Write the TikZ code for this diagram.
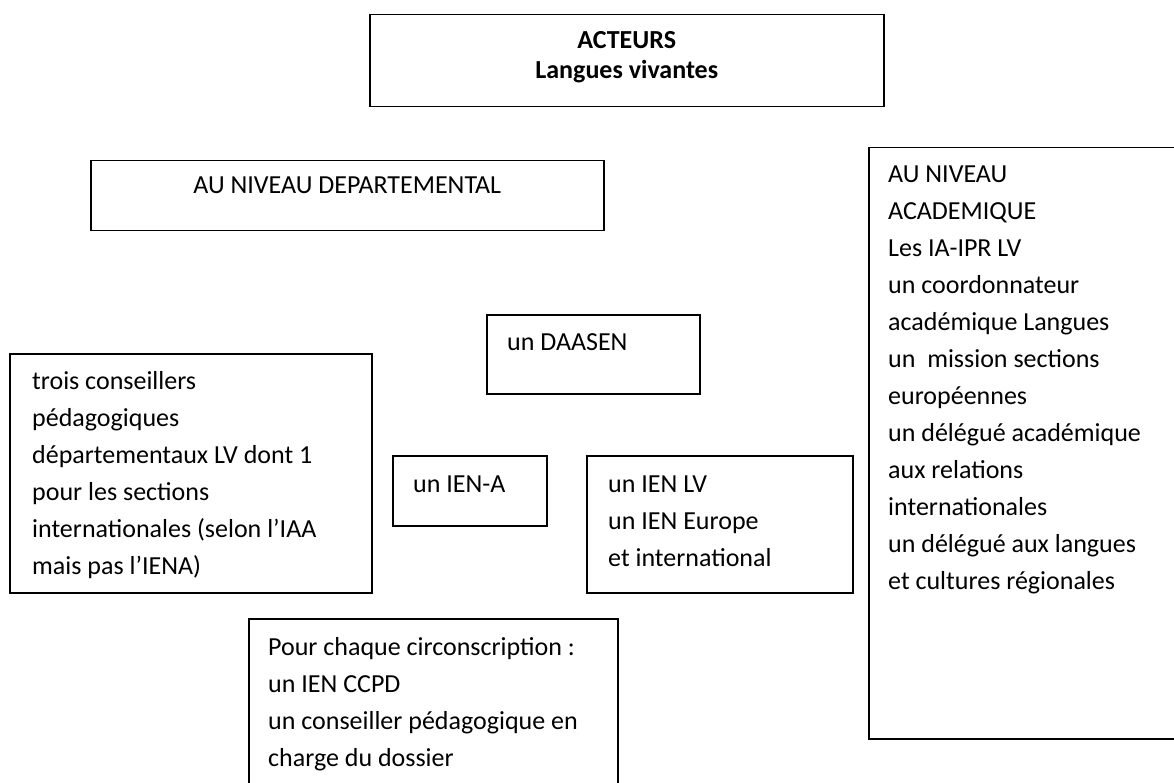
\documentclass[tikz,border=0pt]{standalone}
\usepackage{fontspec}
\setmainfont{Carlito}
\usetikzlibrary{positioning}

\tikzset{
  box/.style={draw, line width=1.5pt, inner sep=0pt, anchor=north west},
  txt/.style={inner sep=0pt, align=left, font=\fontsize{26}{37}\selectfont},
}

\begin{document}
\begin{tikzpicture}[x=1pt, y=-1pt]
  \path[use as bounding box, clip] (0,0) rectangle (1174,783);

  % titre
  \node[box, minimum width=514pt, minimum height=92pt] (titre) at (369,14) {};
  \node[txt, align=center, font=\fontsize{26}{30}\selectfont\bfseries] [below=13pt of titre.north] (titretext) {\strut ACTEURS\\Langues vivantes};

  % niveau departemental
  \node[box, minimum width=513pt, minimum height=70pt] (dept) at (90,160) {};
  \node[txt] [below=17pt of dept.north] (depttext) {AU NIVEAU DEPARTEMENTAL};

  % niveau academique
  \node[box, minimum width=320pt, minimum height=591pt] (acad) at (868,147) {};
  \node[txt] [below right=9pt and 20pt of acad.north west] (acadtext) {\strut AU NIVEAU\\ACADEMIQUE\\Les IA-IPR LV\\un coordonnateur\\acad\'emique Langues\\un\ \ mission sections\\europ\'eennes\\un d\'el\'egu\'e acad\'emique\\aux relations\\internationales\\un d\'el\'egu\'e aux langues\\et cultures r\'egionales};

  \node[box, minimum width=213pt, minimum height=79pt] (daasen) at (486,314) {};
  \node[txt] [below right=10pt and 21pt of daasen.north west] (daasentext) {\strut un DAASEN};

  \node[box, minimum width=362pt, minimum height=239pt] (cpd) at (9,353) {};
  \node[txt] [below right=10pt and 23pt of cpd.north west] (cpdtext) {\strut trois conseillers\\p\'edagogiques\\d\'epartementaux LV dont 1\\pour les sections\\internationales (selon l’IAA\\mais pas l’IENA)};

  \node[box, minimum width=154pt, minimum height=70pt] (iena) at (392,455) {};
  \node[txt] [below right=11pt and 21pt of iena.north west] (ienatext) {\strut un IEN-A};

  \node[box, minimum width=266pt, minimum height=137pt] (ienlv) at (586,455) {};
  \node[txt] [below right=11pt and 22pt of ienlv.north west] (ienlvtext) {\strut un IEN LV\\un IEN Europe\\et international};

  \node[box, minimum width=369pt, minimum height=200pt] (circo) at (248,618) {};
  \node[txt] [below right=11pt and 20pt of circo.north west] (circotext) {\strut Pour chaque circonscription :\\un IEN CCPD\\un conseiller p\'edagogique en\\charge du dossier};
\end{tikzpicture}
\end{document}
